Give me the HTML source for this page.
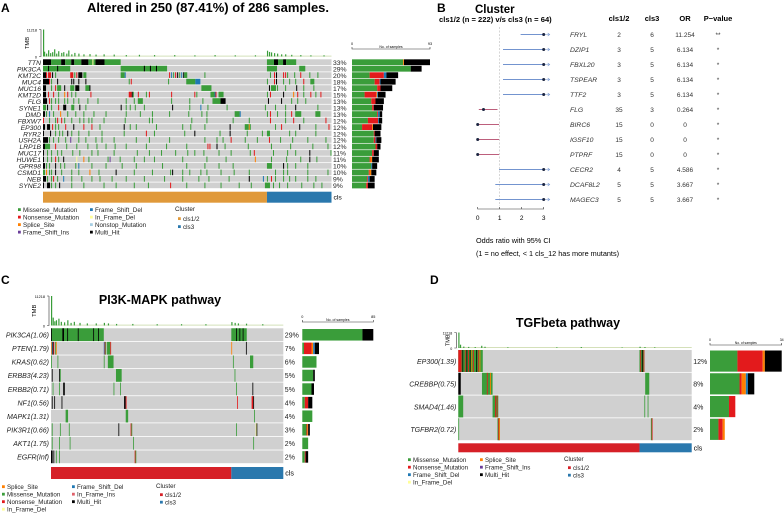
<!DOCTYPE html>
<html><head><meta charset="utf-8"><style>
html,body{margin:0;padding:0;background:#fff;width:784px;height:513px;overflow:hidden}
svg{display:block;font-family:"Liberation Sans",Arial,sans-serif}
</style></head><body>
<svg id="fig" width="784" height="513" viewBox="0 0 784 513" xmlns="http://www.w3.org/2000/svg">
<g font-weight="bold" font-size="12">
<text x="1" y="12">A</text>
<text x="437" y="12">B</text>
<text x="1" y="284">C</text>
<text x="430" y="284">D</text>
</g>
<text x="208" y="12" font-size="13" font-weight="bold" text-anchor="middle">Altered in 250 (87.41%) of 286 samples.</text>
<text x="160" y="304" font-size="12.5" font-weight="bold" text-anchor="middle">PI3K-MAPK pathway</text>
<text x="568" y="327" font-size="12.5" font-weight="bold" text-anchor="middle">TGFbeta pathway</text>
<text x="475" y="13" font-size="11.5" font-weight="bold">Cluster</text>
<text x="439" y="22" font-size="7.6" font-weight="bold">cls1/2 (n = 222) v/s cls3 (n = 64)</text>
<g id="gA"></g>
<g id="gB"></g>
<g id="gC"></g>
<g id="gD"></g>
</svg>
<script>
// ---------- DATA ----------
const mutColors = {M:'#3a9d3a',N:'#e31a1c',S:'#ff7f00',D:'#1f78b4',I:'#6a3d9a',F:'#ffff99',T:'#a6cee3',H:'#000000',R:'#e0606a'};
const barTypes = ['M','N','S','D','H'];

const genesA = ['TTN','PIK3CA','KMT2C','MUC4','MUC16','KMT2D','FLG','SYNE1','DMD','FBXW7','EP300','RYR2','USH2A','LRP1B','MUC17','HUWE1','GPR98','CSMD1','NEB','SYNE2'];
const pctA = ['33%','29%','20%','18%','17%','15%','13%','13%','13%','12%','12%','12%','12%','12%','11%','11%','10%','10%','9%','9%'];
const mutA = [
"0-7H 8-17M 18-21H 22-27M 28-30H 31-37M 38-44H 45-48M 49F 50-51M 52-60H 61-76M 222-228M 229-232H 233-237M 238-240H 241-250M",
"0-26M 5H 14H 77-122M 100H 106H 112H 222-231M 254-259M",
"0-2H 3N 5-7N 9H 12M 27-29N 31M 33N 35-38H 40-42M 77-80M 81D 125N 127D 129M 131N 133H 135M 137D 139H 140-142M 160M 225M 229N 231H 238N 240N 242M 249M 255N 264M 272M",
"0-5H 6N 8M 14H 28H 30H 35H 42H 85M 87N 124M 142-150M 151-155D 222M 229N 231H 238M 244M 250M 258N 265-268M",
"0-2H 8M 12N 14-17M 21H 27-30M 32-35H 42-45M 46H 157-166M 224H 226-230M 232M 240M 251H 258M 268M",
"0-2H 5N 10N 15M 21S 24N 28M 32M 47N 85-87N 88H 89M 94N 102M 105N 127N 150N 152M 166-169M 170D 171N 174-178M 222M 225N 238H 248S 252N 258M 265N 270M 275N",
"0-3H 6N 8M 12M 15M 21M 24M 30M 35M 44M 54M 82M 90M 94-98M 127M 145M 158M 168M 169-175M 176-180H 223H 236H 246M 252M 260M",
"0-2M 4H 8M 15N 20-22H 28-30M 36H 42M 77H 82M 86M 91M 100M 128H 145M 156D 163M 182M 220M 230M 240M 250H 272M",
"0-1H 3M 6D 10M 17S 24M 32M 40M 50M 62M 82M 96M 108M 125M 144M 157M 162M 190-194M 195D 222M 225N 232M 240M 246N 250-255M 270-274M",
"0N 6M 12M 14N 18N 21M 28M 36M 40M 45M 48M 60M 81M 105M 108M 147M 162M 188M 204M 225N 240M 248N 258M 280N",
"0-1H 4-6H 9N 12M 15M 22N 30H 40N 48N 56M 80H 86M 92M 112M 138M 146M 160M 185H 200-203M 204S 205M 230M 236N 254H 270M 283N",
"0H 7H 12M 16M 19M 24H 28M 35M 45M 58M 80M 102N 110M 140M 150H 175M 185H 202M 217M 222-224M 244M 250M 270M",
"0-4H 6M 10M 15M 22M 27I 35M 42M 52M 58M 70M 92M 105M 125M 160M 172M 178M 186N 200M 212M 224N 235M 247M 262M 280M",
"0-1H 2-6M 12N 23M 33M 44M 53M 62M 71M 82M 102M 122M 142M 163N 165N 172H 180M 203M 226M 245M 267M 282M",
"0H 4M 8M 14M 18M 29M 36M 48M 54M 70M 93M 105M 117M 131M 143M 150M 159M 174M 186M 205M 209N 228M 242M 250M 264H 285M",
"0H 4M 8M 12N 15M 20H 33F 40S 45M 64M 66I 76M 90M 100M 110M 138M 162M 181M 210S 226M 241M 255M 264H 271M",
"0-1H 3M 6M 12H 17M 21M 32M 35D 48M 62M 78M 92M 118M 142M 160M 174M 188M 222-226M 238H 242M 250M 262M",
"0-1M 3S 6M 8M 12H 18M 28M 35M 46S 55M 72H 90M 108M 126M 128H 138M 145M 156M 162M 176M 189M 204M 230M 238M 242M 262M 282M",
"0-2H 4M 8M 10N 14M 20D 28M 38M 48M 56M 68M 82M 100M 120M 138M 154M 164M 184M 204H 218D 222M 226N 230M 238M 244M 250M 262M 270M",
"0H 4-6H 8M 12M 16H 28M 40M 60M 72M 90M 104M 126N 142M 160M 176M 194M 206M 220-224M 228M 234M 242M 256M 268M 276M"
];
const barsA = [[61,0,1,0,31],[70,0,0,0,13],[21,17,0,3,14],[27,6,0,1,18],[30,4,0,0,14],[15,14,1,1,9],[23,5,0,0,10],[24,2,0,0,11],[30,1,0,2,3],[19,12,0,1,4],[12,12,1,0,10],[26,1,0,0,7],[26,2,0,1,6],[28,2,0,0,4],[24,2,0,0,6],[21,1,2,0,8],[23,0,0,1,6],[20,1,2,0,6],[18,1,0,2,6],[17,2,0,0,8]];
const tmbA = [[0,11218],[1,2000],[3,1200],[5,2600],[7,1400],[9,1800],[11,3000],[13,1200],[15,2200],[18,1500],[20,1800],[23,1200],[25,2500],[28,900],[31,1500],[35,1200],[40,900],[46,1000],[52,800],[60,900],[70,800],[82,600],[95,700],[110,600],[130,600],[150,500],[170,600],[190,500],[210,500],[222,2400],[224,1900],[226,1700],[229,1400],[232,1200],[236,900],[240,900],[246,700],[255,600],[265,500],[278,500]];

const genesC = ['PIK3CA(1.06)','PTEN(1.79)','KRAS(0.62)','ERBB3(4.23)','ERBB2(0.71)','NF1(0.56)','MAPK1(1.31)','PIK3R1(0.66)','AKT1(1.75)','EGFR(Inf)'];
const pctC = ['29%','7%','6%','5%','5%','4%','4%','3%','2%','2%'];
const mutC = [
"0-64M 0H 14-15H 20H 33H 52H 58H 222-240M 228H 232H 236H",
"0S 1D 2H 3N 5M 6S 65D 66N 67M 69-72M 73N 222S 240H",
"0M 8M 65M 70-76M 224M 245-248M",
"1H 10H 11M 80-86M 226M",
"2M 10M 15-16H 77M 85M 228M 248H",
"1H 4H 13H 90-91H 92N 229N 247-248N 249H",
"18-20M 92-94M 250M",
"1M 11M 22M 83H 98N 99M 228M 252F 253H",
"1M 10M 23M 101M 249M",
"0-1H 3H 6M 10M 103N 104M"
];
const barsC = [[72,0,0,0,13],[2,9,2,2,5],[17,0,0,0,0],[13,0,0,0,2],[11,0,0,0,3],[3,4,0,0,5],[12,0,0,0,0],[5,1,1,0,2],[7,0,0,0,0],[3,1,0,0,3]];
const tmbC = [[0,11218],[2,3000],[4,1600],[6,2000],[9,2600],[12,1400],[16,1200],[20,2000],[24,1000],[28,1400],[35,1000],[44,800],[55,800],[65,1000],[70,800],[80,600],[100,600],[130,500],[160,500],[190,500],[222,1300],[226,1000],[230,800],[240,700],[260,500]];

const genesD = ['EP300(1.39)','CREBBP(0.75)','SMAD4(1.46)','TGFBR2(0.72)'];
const pctD = ['12%','8%','4%','2%'];
const mutD = [
"0-29M 0-3N 5H 8N 10H 12N 14H 16S 18N 20M 22H 24N 26S 222-227M 223N 225H 227N",
"0-2H 29-41M 35N 39S 229-233M",
"0-5M 42-48M 45N 47N 228M 232M",
"0M 48-50M 49N 50S 236-237M 237N"
];
const barsD = [[13,12,1,0,8],[14,1,2,1,3],[9,3,0,0,0],[4,2,1,0,0]];
const tmbD = [[0,11218],[2,2400],[6,1000],[12,800],[20,700],[28,1600],[32,900],[60,500],[120,500],[150,700],[200,400],[222,900],[228,700],[240,500]];

// forest plot
const fGenes = ['FRYL','DZIP1','FBXL20','TSPEAR','TTF2','FLG','BIRC6','IGSF10','PTPRF','CECR2','DCAF8L2','MAGEC3'];
const fC12 = ['2','3','3','3','3','35','15','15','15','4','5','5'];
const fC3 = ['6','5','5','5','5','3','0','0','0','5','5','5'];
const fOR = [11.254,6.134,6.134,6.134,6.134,0.264,0,0,0,4.586,3.667,3.667];
const fLow = [1.95,1.15,1.15,1.15,1.15,0.05,0,0,0,0.97,0.8,0.8];
const fHigh = [3,3,3,3,3,0.9,0.97,0.97,0.97,3,3,3];
const fP = ['**','*','*','*','*','*','*','*','*','*','*','*'];

// ---------- DRAW ----------
const NS='http://www.w3.org/2000/svg';
function mk(tag, parent, attrs){const e=document.createElementNS(NS,tag);for(const k in attrs)e.setAttribute(k,attrs[k]);parent.appendChild(e);return e;}
function parse(s){return s.split(' ').filter(Boolean).map(t=>{const m=t.match(/^(\d+)(?:-(\d+))?([A-Z])$/);return [+m[1],m[2]?+m[2]:+m[1],m[3]];});}

function onco(g, cfg){
  const n=286, x0=cfg.x0, x1=cfg.x1, sw=(x1-x0)/n;
  const sx=i=>x0+i*sw;
  const rh=(cfg.y1-cfg.y0)/cfg.genes.length;
  const ty=v=>cfg.tb1-(v/11218)*(cfg.tb1-cfg.tb0);
  const ax=mk('path',g,{d:`M${x0-2},${cfg.tb0}h-2M${x0-2},${cfg.tb0}V${cfg.tb1}h-2`,stroke:'#333','stroke-width':0.6,fill:'none'});
  
  
  const base=mk('rect',g,{x:x0,y:cfg.tb1-0.8,width:x1-x0,height:0.8,fill:'#c9d9a8'});
  
  
  cfg.tmb.forEach(([i,v])=>{
    const r=mk('rect',g,{x:sx(i),y:ty(v),width:Math.max(sw,1.2),height:cfg.tb1-ty(v),fill:'#3a9d3a'});
    
    
  });
  const t1=mk('text',g,{x:x0-6,y:cfg.tb0+2,'font-size':cfg.tfs,'text-anchor':'end'});t1.textContent='11218';
  
  
  const t0=mk('text',g,{x:x0-6,y:cfg.tb1+2,'font-size':cfg.tfs,'text-anchor':'end'});t0.textContent='0';
  
  
  const tl=mk('text',g,{x:0,y:0,'font-size':cfg.tfs+2,'text-anchor':'middle',transform:`translate(${x0-cfg.tlx},${(cfg.tb0+cfg.tb1)/2}) rotate(-90)`});tl.textContent='TMB';
  
  
  const bs=(cfg.bx1-cfg.bx0)/cfg.bmax;
  const bax=mk('path',g,{d:`M${cfg.bx0},${cfg.bay-2}V${cfg.bay}H${cfg.bx1}V${cfg.bay-2}`,stroke:'#333','stroke-width':0.6,fill:'none'});
  
  
  const b0=mk('text',g,{x:cfg.bx0,y:cfg.bay-4,'font-size':cfg.tfs,'text-anchor':'middle'});b0.textContent='0';
  
  
  const b1=mk('text',g,{x:cfg.bx1,y:cfg.bay-4,'font-size':cfg.tfs,'text-anchor':'middle'});b1.textContent=String(cfg.bmax);
  
  
  const bt=mk('text',g,{x:(cfg.bx0+cfg.bx1)/2,y:cfg.bay-1,'font-size':cfg.tfs-0.3,'text-anchor':'middle'});bt.textContent='No. of samples';
  
  
  cfg.genes.forEach((gn,r)=>{
    const y=cfg.y0+r*rh;
    const bg=mk('rect',g,{x:x0,y:y,width:x1-x0,height:rh-0.8,fill:'#d0d0d0'});
    
    
    parse(cfg.mut[r]).forEach(([a,b,t])=>{
      const c=mk('rect',g,{x:sx(a),y:y,width:(b-a+1)*sw,height:rh-0.8,fill:mutColors[t]});
      
      
    });
    const lab=mk('text',g,{x:x0-2,y:y+rh/2+cfg.fs*0.35,'font-size':cfg.fs,'font-style':'italic','text-anchor':'end',fill:'#222'});lab.textContent=gn;
    
    
    const pc=mk('text',g,{x:x1+1.5,y:y+rh/2+cfg.fs*0.35,'font-size':cfg.fs,fill:'#222'});pc.textContent=cfg.pct[r];
    
    
    let cx=cfg.bx0;
    const bh=rh*cfg.bhf;
    cfg.bars[r].forEach((v,k)=>{
      if(!v)return;
      const br=mk('rect',g,{x:cx,y:y+(rh-bh)/2-0.3,width:v*bs,height:bh,fill:mutColors[barTypes[k]]});
      
      
      cx+=v*bs;
    });
  });
  const split=sx(222);
  const ca=mk('rect',g,{x:x0,y:cfg.cy,width:split-x0,height:cfg.ch,fill:cfg.c1});
  
  
  const cb=mk('rect',g,{x:split,y:cfg.cy,width:x1-split,height:cfg.ch,fill:'#2a78ad'});
  
  
  const cl=mk('text',g,{x:x1+2,y:cfg.cy+cfg.ch/2+cfg.fs*0.35,'font-size':cfg.fs});cl.textContent='cls';
  
  
  cfg.leg.forEach(([lx,ly,t,col])=>{
    const s=mk('rect',g,{x:lx,y:ly-cfg.lfs*0.6,width:2.8,height:2.8,fill:col});
    
    
    const tx=mk('text',g,{x:lx+5,y:ly,'font-size':cfg.lfs,fill:'#222'});tx.textContent=t;
    
    
  });
  const ct=mk('text',g,{x:cfg.ctx,y:cfg.cty,'font-size':cfg.lfs,fill:'#222'});ct.textContent='Cluster';
  
  
}

onco(document.getElementById('gA'),{genes:genesA,pct:pctA,mut:mutA,bars:barsA,tmb:tmbA,
 x0:43,x1:331.5,y0:59.3,y1:189,tb0:29.5,tb1:56.5,tfs:3.8,tlx:14,fs:6.8,
 bx0:352,bx1:430,bmax:93,bay:49,bhf:0.9,cy:191.7,ch:11,c1:'#e0993a',
 lfs:6.3,ctx:175,cty:211,
 leg:[[18,212,'Missense_Mutation',mutColors.M],[18,219.5,'Nonsense_Mutation',mutColors.N],[18,227,'Splice_Site',mutColors.S],[18,234.5,'Frame_Shift_Ins',mutColors.I],
      [90,212,'Frame_Shift_Del',mutColors.D],[90,219.5,'In_Frame_Del',mutColors.F],[90,227,'Nonstop_Mutation',mutColors.T],[90,234.5,'Multi_Hit',mutColors.H],
      [178,221,'cls1/2','#e0993a'],[178,229,'cls3','#2a78ad']]});

onco(document.getElementById('gC'),{genes:genesC,pct:pctC,mut:mutC,bars:barsC,tmb:tmbC,
 x0:51,x1:283.3,y0:328.3,y1:464,tb0:296,tb1:325.5,tfs:3.8,tlx:15,fs:7,
 bx0:302.3,bx1:373.3,bmax:85,bay:322,bhf:0.85,cy:467,ch:12,c1:'#d62027',
 lfs:6.2,ctx:156,cty:488,
 leg:[[2,489,'Splice_Site',mutColors.S],[2,496.5,'Missense_Mutation',mutColors.M],[2,504,'Nonsense_Mutation',mutColors.N],[2,511.5,'In_Frame_Del',mutColors.F],
      [72,489,'Frame_Shift_Del',mutColors.D],[72,496.5,'In_Frame_Ins',mutColors.R],[72,504,'Multi_Hit',mutColors.H],
      [160,497,'cls1/2','#d62027'],[160,504.5,'cls3','#2a78ad']]});

onco(document.getElementById('gD'),{genes:genesD,pct:pctD,mut:mutD,bars:barsD,tmb:tmbD,
 x0:458.3,x1:691.7,y0:350,y1:441,tb0:332.5,tb1:348,tfs:3.6,tlx:9,fs:7,
 bx0:710,bx1:781.7,bmax:34,bay:345,bhf:0.93,cy:443.3,ch:9,c1:'#d62027',
 lfs:6.2,ctx:564,cty:461,
 leg:[[408,462,'Missense_Mutation',mutColors.M],[408,469.5,'Nonsense_Mutation',mutColors.N],[408,477,'Frame_Shift_Del',mutColors.D],[408,484.5,'In_Frame_Del',mutColors.F],
      [480,462,'Splice_Site',mutColors.S],[480,469.5,'Frame_Shift_Ins',mutColors.I],[480,477,'Multi_Hit',mutColors.H],
      [568,470,'cls1/2','#d62027'],[568,477.5,'cls3','#2a78ad']]});

(function(){
  const g=document.getElementById('gB');
  const fx=v=>477.7+v*22;
  const fy=i=>34.5+i*15;
  const dl=mk('line',g,{x1:fx(1),y1:27,x2:fx(1),y2:206,stroke:'#bbb','stroke-width':0.6,'stroke-dasharray':'2,1.5'});
  
  
  const hd=[[619,'cls1/2'],[652,'cls3'],[685,'OR'],[718,'P\u2212value']];
  hd.forEach(([x,t])=>{const e=mk('text',g,{x:x,y:21,'font-size':7.5,'font-weight':'bold','text-anchor':'middle'});e.textContent=t;
    
    });
  fGenes.forEach((gn,i)=>{
    const y=fy(i);
    const up=fOR[i]>=1;
    const col=up?'#7394cf':'#bd5f7c';
    const ln=mk('line',g,{x1:fx(fLow[i]),y1:y,x2:fx(fHigh[i]),y2:y,stroke:col,'stroke-width':1.1});
    
    
    const pv=Math.min(fOR[i],3);
    if(up){
      const ar=mk('path',g,{d:`M${fx(3)},${y}h6m-2,-1.5l2,1.5l-2,1.5`,stroke:'#7394cf','stroke-width':0.6,fill:'none'});
      
      
    }
    const pt=mk('circle',g,{cx:fx(pv),cy:y,r:1.5,fill:'#1c2540'});
    
    
    const gl=mk('text',g,{x:570,y:y+2.4,'font-size':6.8,'font-style':'italic',fill:'#333'});gl.textContent=gn;
    
    
    const a=mk('text',g,{x:619,y:y+2.4,'font-size':6.5,'text-anchor':'middle',fill:'#333'});a.textContent=fC12[i];
    
    
    const b=mk('text',g,{x:652,y:y+2.4,'font-size':6.5,'text-anchor':'middle',fill:'#333'});b.textContent=fC3[i];
    
    
    const o=mk('text',g,{x:685,y:y+2.4,'font-size':6.5,'text-anchor':'middle',fill:'#333'});o.textContent=String(fOR[i]);
    
    
    const p=mk('text',g,{x:718,y:y+2.4,'font-size':6.5,'text-anchor':'middle',fill:'#333'});p.textContent=fP[i];
    
    
  });
  const ax=mk('path',g,{d:`M${fx(0)},207V209H${fx(3)}V207M${fx(1)},209v-2M${fx(2)},209v-2`,stroke:'#333','stroke-width':0.6,fill:'none'});
  
  
  [0,1,2,3].forEach(v=>{const t=mk('text',g,{x:fx(v),y:220,'font-size':6.5,'text-anchor':'middle'});t.textContent=String(v);
    
    });
  const n1=mk('text',g,{x:476,y:243,'font-size':7.3});n1.textContent='Odds ratio with 95% CI';
  
  
  const n2=mk('text',g,{x:476,y:256,'font-size':7.3});n2.textContent='(1 = no effect, < 1 cls_12 has more mutants)';
  
  
})();
</script>
</body></html>
